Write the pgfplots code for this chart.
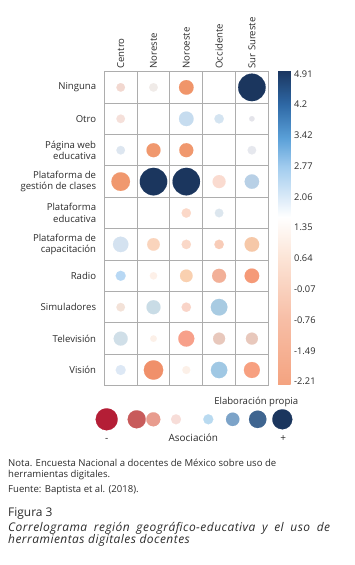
\documentclass[border=0pt]{standalone}
\usepackage{pgfplots}
\pgfplotsset{compat=1.18}
\usepackage{pgfplotstable}
\usepackage{fontspec}
\setmainfont{Open Sans}
\definecolor{txt}{HTML}{2B2B2B}
\definecolor{gridc}{HTML}{ADADAD}
\newcommand\fs[2]{\fontsize{#1}{#2}\selectfont}

\pgfplotsset{colormap={cb}{rgb255(0pt)=(244,163,128) rgb255(152pt)=(247,190,166) rgb255(292pt)=(252,228,214) rgb255(388pt)=(255,255,255) rgb255(434pt)=(218,234,248) rgb255(505pt)=(160,203,238) rgb255(570pt)=(90,160,216) rgb255(648pt)=(46,104,165) rgb255(726pt)=(27,54,96)}}

\pgfplotsset{circ/.style={scatter, only marks, mark=*, point meta=y,
  visualization depends on={\thisrow{r}\as\rad},
  visualization depends on={\thisrow{R}/255\as\cR},
  visualization depends on={\thisrow{G}/255\as\cG},
  visualization depends on={\thisrow{B}/255\as\cB},
  scatter/@pre marker code/.code={\edef\tmpc{\noexpand\definecolor{mc}{rgb}{\cR,\cG,\cB}}\tmpc\scope[mark size=\rad bp, fill=mc, draw=mc, line width=0.1pt]},
  scatter/@post marker code/.code={\endscope}}}

% x = region (1 Centro ... 5 Sur Sureste), y = row (10 Ninguna ... 1 Vision), r = radius (bp), R G B = colour
\pgfplotstableread{
x y r R G B
1 10 4.3 242 216 208
2 10 4.3 240 235 232
3 10 7.3 240 149 106
5 10 13.7 27 54 94
1 9 4.3 245 224 218
3 9 7.3 198 220 239
4 9 4.7 212 228 241
5 9 2.7 228 228 234
1 8 4.3 221 230 240
2 8 7.0 240 152 110
3 8 7.0 240 152 110
5 8 4.3 230 232 238
1 7 9.3 240 152 110
2 7 13.7 27 54 94
3 7 13.7 27 54 94
4 7 6.5 250 219 208
5 7 7.2 184 208 230
3 6 4.7 251 216 200
4 6 4.3 220 230 238
1 5 7.7 212 226 240
2 5 6.3 250 212 188
3 5 4.7 250 216 200
4 5 4.7 248 204 184
5 5 7.3 246 200 168
1 4 5.0 184 216 244
2 4 3.7 253 240 232
3 4 6.3 249 208 176
4 4 7.0 242 176 152
5 4 7.3 245 154 120
1 3 4.3 243 226 216
2 3 7.0 201 220 230
3 3 4.7 249 212 200
4 3 8.3 168 203 226
1 2 7.0 208 223 232
2 2 3.3 252 240 232
3 2 8.0 247 160 138
4 2 6.0 232 200 188
5 2 6.0 232 200 188
1 1 5.0 221 232 245
2 1 9.7 240 144 106
3 1 4.0 252 240 232
4 1 8.2 160 200 228
5 1 8.0 247 160 128
}\cells

\pgfplotstableread{
x y r R G B
106.7 -419.3 11 180 30 54
136.7 -419.3 9 200 91 91
153.3 -419.3 7 232 156 142
176.0 -419.3 5 247 221 216
208.3 -419.3 5 185 218 240
232.7 -419.3 6.7 124 163 200
257.7 -419.3 8.7 63 101 144
282.3 -419.3 10 27 54 94
}\legcircles

\begin{document}
\begin{tikzpicture}
\path (0bp,0bp) rectangle (355bp,-565bp);
\begin{axis}[
  at={(104.3bp,-71.7bp)}, anchor=north west,
  scale only axis, width=164bp, height=314bp,
  xmin=0.5, xmax=5.5, ymin=0.5, ymax=10.5,
  xtick={1,...,5},
  xticklabels={Centro,Noreste,Noroeste,Occidente,Sur Sureste},
  xticklabel pos=right,
  xticklabel style={rotate=90, anchor=west, font=\fs{9.6}{11}, text=txt, inner xsep=0pt, inner ysep=0pt, xshift=3bp},
  ytick={1,...,10},
  yticklabels={Visión,Televisión,Simuladores,Radio,{Plataforma de\\capacitación},{Plataforma\\educativa},{Plataforma de\\gestión de clases},{Página web\\educativa},Otro,Ninguna},
  yticklabel style={align=right, font=\fs{9.6}{11.5}, text=txt, inner xsep=0pt, xshift=-8bp},
  major tick length=0pt, minor tick length=0pt,
  minor xtick={1.5,2.5,3.5,4.5}, minor ytick={1.5,2.5,...,9.5},
  xminorgrids, yminorgrids,
  minor grid style={gridc, line width=1bp},
  axis line style={gridc, line width=1bp},
  clip=false,
  colorbar, colormap name=cb, point meta min=-2.28, point meta max=4.98,
  colorbar style={
    at={(parent axis.north east)}, anchor=north west, xshift=1.2bp, yshift=1bp,
    scale only axis, width=12.7bp, height=314bp,
    ytick={4.91,4.198,3.486,2.774,2.062,1.35,0.638,-0.074,-0.786,-1.498,-2.21},
    yticklabels={4.91,4.2,3.42,2.77,2.06,1.35,0.64,-0.07,-0.76,-1.49,-2.21},
    yticklabel style={font=\fs{9.3}{10}, text=txt, inner xsep=0pt, xshift=3.3bp},
    major tick length=0pt,
    axis line style={draw=none},
  },
]
\addplot[circ] table[x=x,y=y] {\cells};
\end{axis}
\begin{axis}[at={(0bp,-565bp)}, anchor=south west, scale only axis, width=355bp, height=565bp,
  xmin=0, xmax=355, ymin=-565, ymax=0, hide axis, clip=false]
\addplot[circ] table[x=x,y=y] {\legcircles};
\end{axis}
\begin{scope}[every node/.style={text=txt, inner sep=0pt}]
\node[anchor=base east, font=\fs{9.6}{11}] at (298.3bp,-404bp) {Elaboración propia};
\node[anchor=base, font=\fs{10}{12}] at (106.7bp,-441bp) {-};
\node[anchor=base, font=\fs{10}{12}] at (193.3bp,-441bp) {Asociación};
\node[anchor=base, font=\fs{10}{12}] at (283.3bp,-441bp) {+};
\node[anchor=base west, font=\fs{9.6}{11}] at (8bp,-466bp) {Nota. Encuesta Nacional a docentes de México sobre uso de};
\node[anchor=base west, font=\fs{9.6}{11}] at (8bp,-477bp) {herramientas digitales.};
\node[anchor=base west, font=\fs{9.6}{11}] at (8bp,-492bp) {Fuente: Baptista et al. (2018).};
\node[anchor=base west, font=\fs{12}{13}] at (8bp,-516bp) {Figura 3};
\node[anchor=base west, font=\fs{12}{13}\itshape\addfontfeatures{LetterSpace=4}] at (8bp,-531.5bp) {\makebox[322bp][s]{Correlograma región geográfico-educativa y el uso de}};
\node[anchor=base west, font=\fs{12}{13}\itshape\addfontfeatures{LetterSpace=4}] at (8bp,-543.5bp) {herramientas digitales docentes};
\end{scope}
\end{tikzpicture}
\end{document}
